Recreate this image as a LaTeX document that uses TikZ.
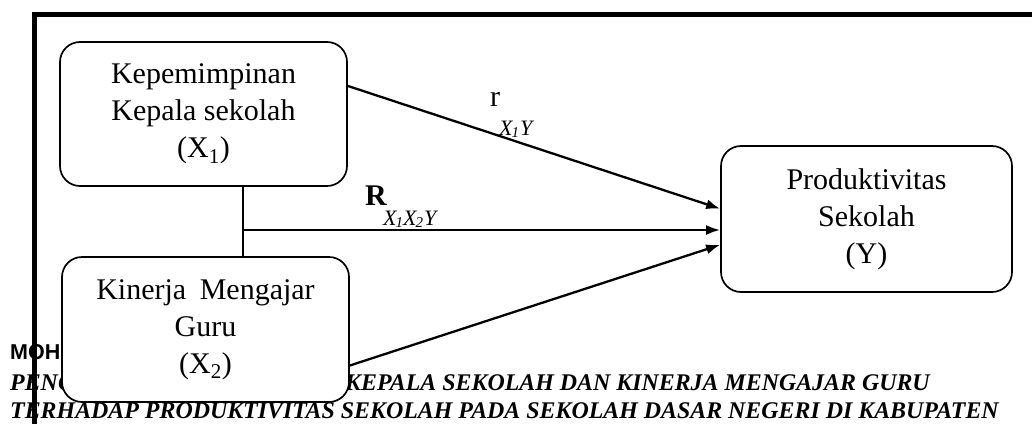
\documentclass[tikz,border=0pt]{standalone}
\usepackage{fontspec}
\setmainfont{Liberation Serif}
\newfontfamily\capsans{Liberation Sans}
\usetikzlibrary{arrows.meta}
\begin{document}
\begin{tikzpicture}[x=1pt,y=-1pt,
  box/.style={draw,line width=1.7pt,rounded corners=20pt,fill=white,align=center,
    inner sep=0pt,font=\fontsize{30}{37}\selectfont},
  conn/.style={line width=2.3pt},
  arr/.style={line width=2.3pt,-{Latex[length=14pt,width=10pt]}},
  captxt/.style={anchor=base west,inner sep=0pt,font=\fontsize{23.9}{28}\selectfont\bfseries\itshape},
  lbl/.style={anchor=base west,inner sep=0pt}]
\useasboundingbox (0,0) rectangle (1032,423);
% caption text (partly hidden)
\node[lbl,font=\capsans\fontsize{21.5}{24}\selectfont\bfseries] (moh) at (10,359) {MOH};
\node[captxt] (cap1a) at (10,390) {PENG};
\node[captxt] (cap1b) at (345,390) {KEPALA SEKOLAH DAN KINERJA MENGAJAR GURU};
\node[captxt] (cap2) at (10,418) {TERHADAP PRODUKTIVITAS SEKOLAH PADA SEKOLAH DASAR NEGERI DI KABUPATEN};
% frame
\draw[line width=5pt] (34.5,430) -- (34.5,14.5) -- (1040,14.5);
% boxes
\node[box,minimum width=287pt,minimum height=144pt] (x1) at (203.5,114)
  {Kepemimpinan\\Kepala sekolah\\(X\textsubscript{1})};
\node[box,minimum width=287pt,minimum height=145pt] (x2) at (205.5,329.5)
  {Kinerja\hspace{6pt} Mengajar\\Guru\\(X\textsubscript{2})};
\node[box,minimum width=291pt,minimum height=146pt] (y) at (866.5,219)
  {Produktivitas\\Sekolah\\(Y)};
% connectors
\coordinate (j) at (243,230);
\draw[conn] (j |- x1.south) -- (j |- x2.north);
\draw[arr] (j) -- (j -| y.west);
\draw[arr] (x1.11.8) -- (y.176.5);
\draw[arr] (x2.-14.3) -- (y.190.9);
% labels
\node[lbl,font=\fontsize{30}{30}\selectfont] (r) at (490,106) {r};
\node[lbl,font=\fontsize{22}{22}\selectfont\itshape] (rs) at (499,135) {X\kern-1pt\raisebox{-2pt}{\fontsize{15}{15}\selectfont 1}\kern1pt Y};
\node[lbl,font=\fontsize{30}{30}\selectfont\bfseries] (R) at (365,205) {R};
\node[lbl,font=\fontsize{22}{22}\selectfont\itshape] (Rs) at (383,225) {X\kern-1pt\raisebox{-2pt}{\fontsize{15}{15}\selectfont 1}X\kern-1pt\raisebox{-2pt}{\fontsize{15}{15}\selectfont 2}\kern1pt Y};
\end{tikzpicture}
\end{document}
